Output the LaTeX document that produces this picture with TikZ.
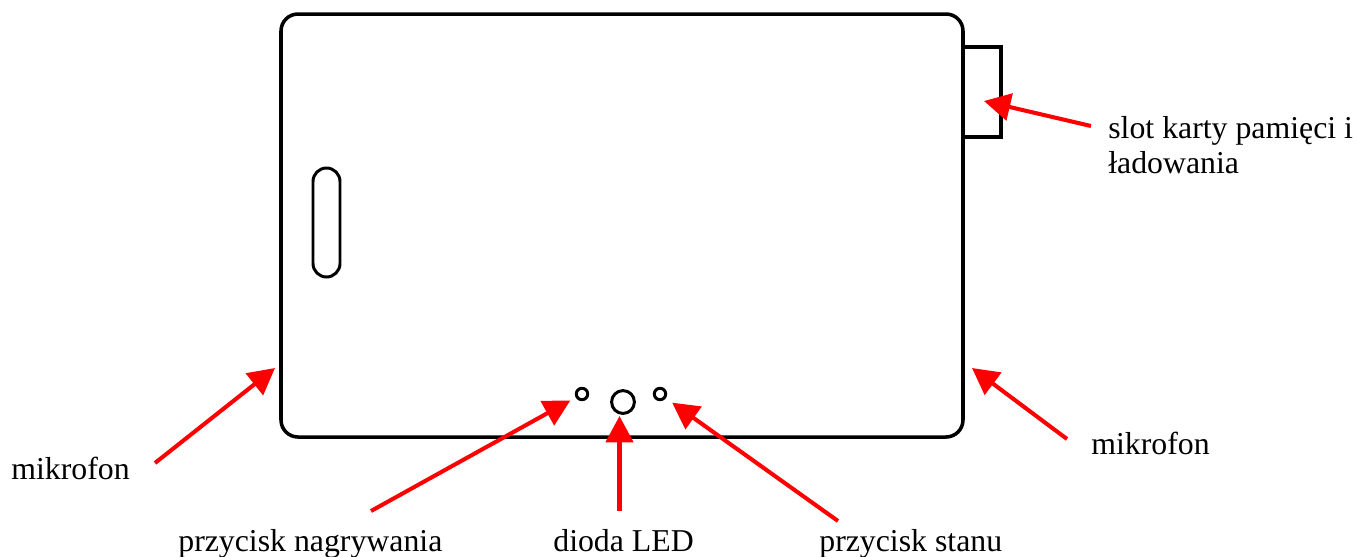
\documentclass[tikz,border=0pt]{standalone}
\usepackage{fontspec}
\setmainfont{Liberation Serif}
\usetikzlibrary{positioning, arrows.meta}

\tikzset{
  outline/.style={line width=2pt, black},
  thinoutline/.style={line width=1.7pt, black},
  hole/.style={circle, draw, thinoutline, inner sep=0pt},
  pointer/.style={-{Triangle[length=15pt, width=15.5pt]}, line width=2.3pt, red},
  caption/.style={inner sep=0pt, anchor=base west, font=\fontsize{18.1}{20.2}\selectfont}
}

\begin{document}
\begin{tikzpicture}[x=0.02cm, y=-0.02cm]
  \useasboundingbox (0, 0) rectangle (1357, 556);

  % Housing
  \draw[outline, rounded corners=17*0.02cm] (281, 14) rectangle (963, 437);
  \draw[outline] (963, 47) -- (1001, 47) -- (1001, 137) -- (963, 137);

  % Slit on the left
  \draw[thinoutline, rounded corners=13.5*0.02cm] (313, 168) rectangle (340, 277);

  % Buttons and LED
  \node[hole, minimum size=6.5pt] (btnrec) at (582, 394) {};
  \node[hole, minimum size=13pt] (led) at (623, 402) {};
  \node[hole, minimum size=6.5pt] (btnstate) at (660, 394) {};

  % Labels
  \node[caption] (micleft) at (11, 479) {mikrofon};
  \node[caption] (micright) at (1091, 454) {mikrofon};
  \node[caption] (reclabel) at (178, 551) {przycisk nagrywania};
  \node[caption] (ledlabel) at (553, 551) {dioda LED};
  \node[caption] (statelabel) at (819, 551) {przycisk stanu};
  \node[caption, anchor=north west, align=left] (slotlabel) at (1108, 116) {slot karty pamięci i\\ładowania};

  % Arrow ends
  \coordinate (micleftend) at (155, 463);
  \coordinate (miclefttip) at (275, 368);
  \coordinate (micrightend) at (1067, 439);
  \coordinate (micrighttip) at (972, 368);
  \coordinate (slotend) at (1091, 126);
  \coordinate (slottip) at (984, 101);
  \coordinate (recend) at (371, 511);
  \coordinate (ledend) at (619.5, 511);
  \coordinate (ledtip) at (619.5, 416);
  \coordinate (stateend) at (838, 521);

  % Arrows
  \draw[pointer] (micleftend) -- (miclefttip);
  \draw[pointer] (micrightend) -- (micrighttip);
  \draw[pointer] (slotend) -- (slottip);
  \draw[pointer, shorten >=3.5pt] (recend) -- (btnrec);
  \draw[pointer] (ledend) -- (ledtip);
  \draw[pointer, shorten >=4.4pt] (stateend) -- (btnstate);
\end{tikzpicture}
\end{document}
